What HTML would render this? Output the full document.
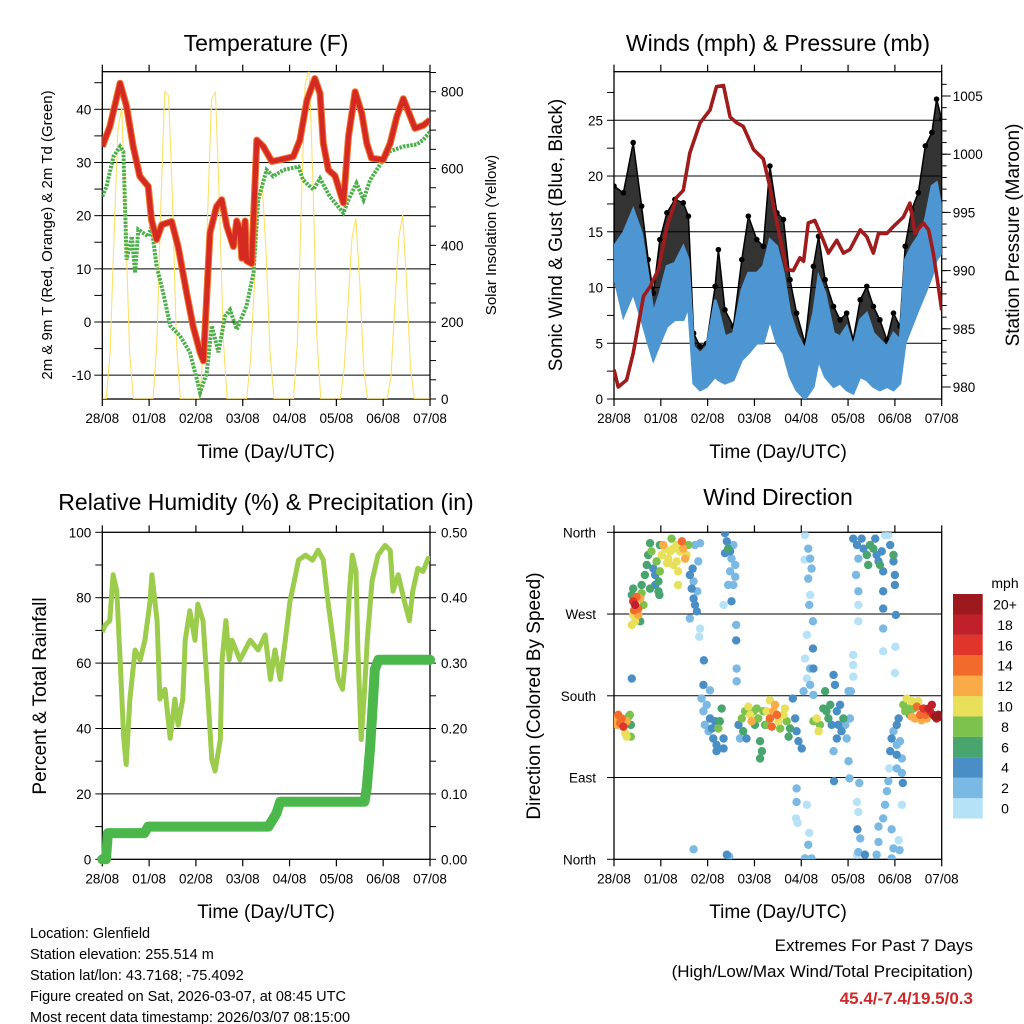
<!DOCTYPE html>
<html><head><meta charset="utf-8"><style>
html,body{margin:0;padding:0;background:#fff;}
svg{display:block;font-family:"Liberation Sans",Arial,sans-serif;}
</style></head><body>
<svg id="root" width="1024" height="1024" viewBox="0 0 1024 1024">
<defs>
<clipPath id="c1"><rect x="102.3" y="71.7" width="327.7" height="327.3"/></clipPath>
<clipPath id="c2"><rect x="614" y="71.7" width="327.7" height="327.3"/></clipPath>
<clipPath id="c3"><rect x="102.3" y="532.3" width="327.7" height="327"/></clipPath>
<clipPath id="c4"><rect x="614" y="532.3" width="327.7" height="327"/></clipPath>
</defs>
<g id="g1"></g>
<g id="g2"></g>
<g id="g3"></g>
<g id="g4"></g>

<text x="266" y="51" font-size="23" text-anchor="middle">Temperature (F)</text>
<text x="778" y="51" font-size="23" text-anchor="middle">Winds (mph) &amp; Pressure (mb)</text>
<text x="266" y="510" font-size="23" text-anchor="middle">Relative Humidity (%) &amp; Precipitation (in)</text>
<text x="778" y="505" font-size="23" text-anchor="middle">Wind Direction</text>

<text x="266" y="458" font-size="19" text-anchor="middle">Time (Day/UTC)</text>
<text x="778" y="458" font-size="19" text-anchor="middle">Time (Day/UTC)</text>
<text x="266" y="918" font-size="19" text-anchor="middle">Time (Day/UTC)</text>
<text x="778" y="918" font-size="19" text-anchor="middle">Time (Day/UTC)</text>

<text transform="translate(52,235) rotate(-90)" font-size="15" text-anchor="middle">2m &amp; 9m T (Red, Orange) &amp; 2m Td (Green)</text>
<text transform="translate(496,235) rotate(-90)" font-size="15" text-anchor="middle">Solar Insolation (Yellow)</text>
<text transform="translate(562,235) rotate(-90)" font-size="19" text-anchor="middle">Sonic Wind &amp; Gust (Blue, Black)</text>
<text transform="translate(1019,235) rotate(-90)" font-size="19" text-anchor="middle">Station Pressure (Maroon)</text>
<text transform="translate(46,696) rotate(-90)" font-size="19" text-anchor="middle">Percent &amp; Total Rainfall</text>
<text transform="translate(540,696) rotate(-90)" font-size="19" text-anchor="middle">Direction (Colored By Speed)</text>

<g font-size="14.5">
<text x="30" y="938">Location: Glenfield</text>
<text x="30" y="959">Station elevation: 255.514 m</text>
<text x="30" y="980">Station lat/lon: 43.7168; -75.4092</text>
<text x="30" y="1001">Figure created on Sat, 2026-03-07, at 08:45 UTC</text>
<text x="30" y="1022">Most recent data timestamp: 2026/03/07 08:15:00</text>
</g>
<text x="973" y="951" font-size="17" text-anchor="end">Extremes For Past 7 Days</text>
<text x="973" y="977" font-size="17" text-anchor="end">(High/Low/Max Wind/Total Precipitation)</text>
<text x="973" y="1004" font-size="17" font-weight="bold" fill="#cc2a2a" text-anchor="end">45.4/-7.4/19.5/0.3</text>
<g id="cbar"></g>
<text x="1005" y="588" font-size="14" text-anchor="middle">mph</text>
</svg>
<script>
// ---------- DATA ----------
const dayLabels = ["28/08","01/08","02/08","03/08","04/08","05/08","06/08","07/08"];

const tempDays = [0,0.16,0.38,0.52,0.66,0.80,0.98,1.05,1.16,1.27,1.48,1.62,1.80,1.94,2.09,2.16,2.30,2.44,2.55,2.66,2.80,2.87,2.94,2.98,3.05,3.08,3.19,3.30,3.44,3.62,3.80,4.08,4.22,4.37,4.54,4.65,4.72,4.83,4.97,5.15,5.26,5.40,5.54,5.65,5.75,6.00,6.15,6.29,6.43,6.68,6.86,7.00];
const tempVals = [33.0,36.7,44.9,40.5,33.0,27.4,25.5,19.2,15.5,18.3,18.9,14.2,5.5,-0.8,-5.7,-7.3,16.8,21.7,23.0,18.0,14.2,19.0,17.4,12.0,19.0,11.5,11.0,34.2,33.0,30.2,30.5,31.1,34.2,41.7,45.8,43.0,33.6,28.6,27.5,22.4,34.9,43.3,39.3,33.6,30.8,30.5,33.6,38.6,42.0,36.4,37.0,38.0];

const dewDays = [0,0.09,0.24,0.38,0.45,0.52,0.63,0.70,0.77,0.98,1.05,1.16,1.30,1.45,1.66,1.87,2.02,2.09,2.23,2.34,2.48,2.62,2.73,2.87,3.08,3.23,3.33,3.51,3.65,3.87,4.19,4.29,4.51,4.65,4.86,5.15,5.26,5.43,5.58,5.72,5.86,6.00,6.15,6.43,6.72,6.86,7.00];
const dewVals = [23.6,25.5,31.1,33.0,32.0,11.7,16.1,9.2,17.4,16.1,18.0,10.5,5.5,-0.7,-2.6,-5.7,-10.8,-13.3,-9.6,-0.7,-5.7,1.1,2.3,-1.4,3.0,9.2,23.0,28.6,27.4,28.6,29.2,26.7,24.9,27.0,23.6,20.5,23.0,26.1,23.0,26.7,28.6,30.5,32.1,33.0,33.4,34.3,35.8];

// solar insolation, 2-hourly samples (W/m2)
const solarVals = [
0,0,120,420,700,760,450,120,0,0,0,0,
0,0,150,500,800,790,520,150,0,0,0,0,
0,0,150,480,780,800,520,160,0,0,0,0,
0,0,100,300,520,560,380,120,0,0,0,0,
0,0,150,500,820,860,560,160,0,0,0,0,
0,0,80,250,420,470,300,80,0,0,0,0,
0,0,60,250,420,480,300,80,0,0,0,0,0];

const presDays = [0,0.09,0.27,0.41,0.63,0.77,0.95,1.13,1.34,1.48,1.62,1.84,2.05,2.19,2.34,2.48,2.62,2.76,2.98,3.19,3.33,3.48,3.69,3.83,3.97,4.05,4.15,4.29,4.44,4.58,4.76,4.90,5.04,5.26,5.40,5.54,5.65,5.83,5.97,6.18,6.32,6.43,6.61,6.72,6.82,6.93,7.00];
const presVals = [981.5,980.0,980.6,982.9,987.8,988.6,990.1,993.8,996.3,996.9,1000.1,1002.7,1003.8,1005.8,1005.9,1003.2,1002.7,1002.4,1000.4,999.6,997.2,994.1,990.1,990.0,991.1,990.8,994.1,994.3,992.9,991.5,992.6,991.5,991.8,993.5,992.9,991.5,993.2,993.2,993.8,994.6,995.8,993.2,994.1,993.5,991.5,988.6,986.6];

const windDays = [0,0.20,0.41,0.59,0.73,0.84,0.98,1.13,1.30,1.48,1.59,1.70,1.84,1.98,2.16,2.23,2.37,2.55,2.73,2.87,3.05,3.19,3.33,3.48,3.62,3.76,3.90,4.08,4.26,4.37,4.51,4.69,4.83,4.97,5.11,5.26,5.40,5.54,5.68,5.83,5.97,6.11,6.22,6.36,6.50,6.65,6.79,6.89,7.00];
const windHigh = [13.7,14.9,17.0,14.9,11.0,7.7,9.5,11.9,12.2,13.7,12.5,4.7,4.1,4.7,8.9,8.0,5.6,5.9,9.8,11.3,11.3,11.9,14.3,13.7,11.3,7.7,5.9,4.4,7.7,11.0,9.5,5.9,5.6,6.5,4.7,7.1,7.7,5.9,5.3,4.7,5.9,5.3,12.5,13.7,14.6,16.1,19.1,19.4,17.0];
const windLow = [11.0,7.4,9.5,7.1,5.0,3.5,5.0,6.5,7.1,7.1,8.3,1.4,0.8,1.1,2.0,1.7,1.4,1.7,3.5,4.1,5.0,5.0,7.1,5.0,4.1,2.0,0.8,0,1.1,3.5,2.0,1.1,1.4,0.8,0.5,2.0,1.7,1.1,0.8,1.1,0.8,1.4,5.0,6.5,8.0,9.5,11.0,12.5,13.1];
const gustHigh = [19.1,18.5,23.0,17.3,12.5,9.5,14.3,16.7,17.9,17.6,16.4,5.9,4.7,5.0,10.1,13.4,8.0,6.5,12.5,16.4,14.3,13.7,20.9,16.7,16.1,10.7,7.7,5.0,11.9,14.6,10.7,8.3,7.1,7.7,5.3,8.9,10.1,8.3,7.1,5.3,7.7,6.5,13.7,17.0,18.5,22.7,23.9,26.9,25.1];

const rhDays = [0,0.06,0.16,0.23,0.31,0.38,0.46,0.51,0.59,0.70,0.81,0.91,1.02,1.06,1.17,1.23,1.34,1.45,1.55,1.62,1.72,1.77,1.87,1.98,2.04,2.15,2.26,2.34,2.41,2.52,2.56,2.64,2.71,2.77,2.94,3.16,3.33,3.48,3.59,3.69,3.80,3.91,4.01,4.10,4.19,4.34,4.49,4.61,4.72,4.82,4.93,5.04,5.13,5.21,5.28,5.34,5.42,5.46,5.53,5.59,5.66,5.76,5.89,6.04,6.15,6.21,6.32,6.45,6.56,6.63,6.74,6.85,6.96,7.00];
const rhVals = [69.5,71.6,73,87,82,61,36.6,29,49,64,61,67,79,87,73,49,52,37,49,41,49,67,76,67,78,73,49,30.5,27,36.6,61,73,61,67,61,67,64,68.6,55,64,55,67,79,85,91.5,93,91.5,94.5,91.5,79,67,55,52,64,82,93,88,64,36.6,49,67,85,93,96,94.5,82,87,79,73,82,89,88,92,92];

const precipDays = [0,0.08,0.12,0.90,0.98,3.55,3.72,3.80,5.60,5.65,5.72,5.78,5.82,5.90,7.00];
const precipVals = [0,0,0.04,0.04,0.05,0.05,0.07,0.088,0.088,0.11,0.17,0.24,0.29,0.305,0.305];

const dirDays = [
0.02,0.09,0.13,0.20,0.27,0.31,0.34,0.24,0.27,0.36,0.36,0.06,0.16,
0.38,0.41,0.45,0.48,0.52,0.56,0.59,0.63,0.41,0.45,0.38,0.56,0.43,0.52,0.41,0.59,
0.66,0.70,0.73,0.77,0.80,0.84,0.88,0.91,0.95,0.97,0.98,1.02,1.05,0.77,0.95,0.98,0.88,
1.09,1.16,1.23,1.27,1.34,1.37,1.41,1.45,1.48,1.52,1.55,1.59,1.37,1.27,1.20,1.34,1.13,
1.62,1.66,1.70,1.73,1.77,1.70,1.80,1.62,1.84,1.82,1.68,1.78,1.73,1.84,
2.37,2.41,2.44,2.48,2.51,2.55,2.59,2.48,2.55,2.51,2.34,2.59,2.44,2.37,2.61,2.61,2.62,2.62,1.92,
1.87,1.91,1.94,1.98,2.05,2.09,2.12,2.16,2.19,2.23,2.26,2.30,2.05,2.34,1.91,2.19,2.34,2.02,
2.66,2.69,2.73,2.76,2.80,2.83,2.87,2.91,2.94,2.98,3.01,3.05,3.08,3.12,3.16,3.12,3.19,3.23,
3.26,3.33,3.37,3.40,3.44,3.48,3.51,3.55,3.62,3.65,3.69,3.76,3.73,3.82,3.87,3.90,3.94,4.01,3.33,3.26,
4.08,4.15,4.19,4.22,4.15,4.19,4.17,4.25,4.12,4.25,4.08,4.19,4.26,4.12,4.19,4.26,4.05,4.07,
4.26,4.33,4.37,4.40,4.47,4.51,4.54,4.58,4.62,4.65,4.69,4.72,4.76,4.79,4.83,4.86,4.90,4.94,4.97,5.01,5.04,4.76,4.69,5.01,4.70,5.03,5.24,
3.90,3.90,3.89,3.92,4.12,4.17,4.15,4.08,4.22,
5.11,5.19,5.22,5.17,5.22,5.22,5.29,5.33,5.40,5.43,5.47,5.54,5.58,5.61,5.65,5.68,5.72,5.75,5.79,5.86,5.90,5.97,5.97,6.00,6.00,5.75,5.75,6.02,5.22,5.75,5.75,6.01,5.11,5.11,5.11,5.06,6.00,
5.19,5.22,5.20,5.26,5.22,5.36,5.19,5.61,5.65,5.65,5.75,5.79,5.83,5.86,5.93,5.97,5.93,6.08,6.10,6.15,6.17,6.15,5.88,5.90,5.93,5.97,6.04,6.04,6.11,6.15,6.04,6.08,6.04,2.41,2.46,1.70,0.38,
6.18,6.22,6.25,6.29,6.32,6.36,6.40,6.43,6.47,6.50,6.54,6.57,6.61,6.65,6.68,6.72,6.75,6.79,6.82,6.86,6.89,6.93,6.97,6.36];
const dirDeg = [
156,159,150,146,152,157,159,139,135,148,135,148,155,
291,284,280,289,276,287,293,280,269,262,258,262,274,269,298,302,
313,324,335,348,339,320,313,328,306,291,317,335,346,298,295,346,302,
342,331,353,342,328,317,339,350,342,331,335,346,302,324,339,346,326,
313,298,287,280,273,306,328,265,254,245,320,295,346,348,
359,350,342,339,331,346,324,317,302,284,280,311,302,337,258,241,210,196,219,
177,163,148,170,155,144,133,152,126,144,152,166,186,133,192,119,122,141,
148,133,155,141,163,133,168,159,152,163,148,166,155,130,119,111,163,148,
163,155,146,163,170,159,152,144,159,166,152,144,135,177,155,141,130,122,175,148,
357,342,331,320,309,291,280,262,247,232,221,210,210,199,192,181,185,330,
152,155,141,148,166,185,163,155,170,148,203,192,163,148,170,141,155,148,133,185,155,133,119,108,86,89,84,
78,63,45,40,60,29,16,1,1,
353,346,331,313,295,280,353,342,335,324,346,342,353,335,328,324,339,317,357,357,346,335,328,313,302,295,276,269,262,254,229,234,225,214,201,185,205,
63,52,33,23,8,5,5,5,19,36,45,60,75,86,33,12,1,21,10,60,84,95,100,119,133,141,148,126,130,111,115,155,100,5,3,11,199,
170,163,177,166,159,174,166,155,168,174,159,153,166,159,155,166,163,170,159,157,155,159,157,157];
const dirSpd = [
13,15,15,17,13,9,9,11,11,7,9,13,15,
7,17,19,15,15,13,9,9,11,11,11,7,15,13,7,7,
7,7,7,7,9,5,5,9,7,7,9,11,13,7,7,7,5,
11,11,9,11,11,11,11,15,13,13,11,9,11,11,11,11,11,
5,5,5,5,5,3,3,3,1,1,5,3,3,3,
5,5,7,5,3,3,3,3,3,5,1,3,3,5,3,5,3,3,5,
3,3,3,3,5,5,5,5,5,9,7,7,3,5,5,5,5,3,
5,3,9,7,9,5,11,11,13,9,7,9,9,7,7,7,9,7,
11,15,15,13,13,15,11,9,11,11,9,7,7,5,5,5,5,5,11,9,
1,3,3,3,3,1,3,3,1,5,1,3,5,1,3,3,3,1,
9,11,11,9,7,7,7,7,7,5,5,5,5,5,5,5,7,3,3,3,3,5,3,3,5,3,3,
3,3,1,1,1,1,3,3,3,
5,5,3,3,3,1,5,5,7,7,7,7,5,5,5,7,5,5,1,1,5,7,5,5,5,5,5,5,1,3,1,1,1,1,1,3,1,
1,1,5,3,3,5,1,3,3,3,3,3,3,3,3,3,3,1,3,1,5,3,1,5,5,3,5,3,3,3,5,5,3,5,3,3,5,
9,9,11,9,7,11,9,13,15,11,15,13,17,15,13,19,17,19,19,21,19,21,21,13];

const speedColors = ["#b6e2f7","#7ab9e3","#4a8ec6","#48a56e","#7cc24c","#e8e05a","#f8ab47","#f26a2c","#e0352b","#c0202a","#9c1a1d"];
const speedLabels = ["0","2","4","6","8","10","12","14","16","18","20+"];

// ---------- SCALES ----------
const NS="http://www.w3.org/2000/svg";
function mk(parent, tag, attrs){const e=document.createElementNS(NS,tag);for(const k in attrs)e.setAttribute(k,attrs[k]);parent.appendChild(e);return e;}
const lin=(d0,d1,r0,r1)=>v=>r0+(v-d0)*(r1-r0)/(d1-d0);
const xL=lin(0,7,102.3,430), xR=lin(0,7,614,941.7);
const yTemp=lin(0,40,322,109.3), ySolar=lin(0,800,399,91.7);
const yWind=lin(0,25,399,120.3), yPres=lin(1005,980,96,387);
const yRh=lin(0,100,859.3,532.3), yPrec=lin(0,0.5,859.3,532.3);
const yDir=lin(0,360,859.3,532.3);
function pathOf(xs,ys,fx,fy){return xs.map((d,i)=>(i?"L":"M")+fx(d).toFixed(1)+","+fy(ys[i]).toFixed(1)).join("");}

const g1=document.getElementById('g1'),g2=document.getElementById('g2'),g3=document.getElementById('g3'),g4=document.getElementById('g4');

function frame(g,x0,x1,y0,y1,grid,fy){
  for(const v of grid){const l=mk(g,'line',{x1:x0,x2:x1,y1:fy(v),y2:fy(v),stroke:'#000','stroke-width':1});
    
    }
  const r=mk(g,'rect',{x:x0,y:y0,width:x1-x0,height:y1-y0,fill:'none',stroke:'#000','stroke-width':1.3});
  
  
}
function xAxis(g,fx,y0,y1){
  for(let i=0;i<=7;i++){const x=fx(i);
    const t1=mk(g,'line',{x1:x,x2:x,y1:y1,y2:y1+7,stroke:'#000','stroke-width':1.2});
    
    
    const t2=mk(g,'line',{x1:x,x2:x,y1:y0,y2:y0-7,stroke:'#000','stroke-width':1.2});
    
    
    const tx=mk(g,'text',{x:x,y:y1+24,'font-size':13.5,'text-anchor':'middle'});tx.textContent=dayLabels[i];
    
    }
}
function yTicks(g,fy,vals,xEdge,dir,len,labels,fmt){
  for(const v of vals){const y=fy(v);
    const l=mk(g,'line',{x1:xEdge,x2:xEdge+dir*len,y1:y,y2:y,stroke:'#000','stroke-width':1});
    
    }
  if(labels)for(const v of labels){const y=fy(v);
    const t=mk(g,'text',{x:xEdge+dir*11,y:y+5,'font-size':13.5,'text-anchor':dir<0?'end':'start'});t.textContent=fmt?fmt(v):v;
    
    }
}
const range=(a,b,s)=>{const r=[];for(let v=a;v<=b+1e-9;v+=s)r.push(+v.toFixed(4));return r;};

// ----- Panel 1 -----
frame(g1,102.3,430,71.7,399,[-10,0,10,20,30,40],yTemp);
xAxis(g1,xL,71.7,399);
yTicks(g1,yTemp,range(-10,45,5),102.3,-1,8,[-10,0,10,20,30,40]);
yTicks(g1,ySolar,range(0,850,50),430,1,6,[0,200,400,600,800]);
const p1=mk(g1,'g',{'clip-path':'url(#c1)'});


const solarDays=solarVals.map((v,i)=>i/12);
const sol=mk(p1,'path',{d:pathOf(solarDays,solarVals,xL,ySolar),fill:'none',stroke:'#ffe066','stroke-width':1.1});


const dew=mk(p1,'path',{d:pathOf(dewDays,dewVals,xL,yTemp),fill:'none',stroke:'#4caf4a','stroke-width':4,'stroke-dasharray':'2.5 1.2'});


const t9=mk(p1,'path',{d:pathOf(tempDays,tempVals,xL,yTemp),fill:'none',stroke:'#f07830','stroke-width':7,'stroke-linejoin':'round'});


const t2=mk(p1,'path',{d:pathOf(tempDays,tempVals,xL,yTemp),fill:'none',stroke:'#d42a22','stroke-width':5,'stroke-linejoin':'round'});



// ----- Panel 2 -----
frame(g2,614,941.7,71.7,399,[5,10,15,20,25],yWind);
xAxis(g2,xR,71.7,399);
yTicks(g2,yWind,range(0,27.5,2.5),614,-1,7,[0,5,10,15,20,25]);
yTicks(g2,yPres,range(980,1006,1),941.7,1,5,null);
yTicks(g2,yPres,range(980,1005,5),941.7,1,9,[980,985,990,995,1000,1005]);
const p2=mk(g2,'g',{'clip-path':'url(#c2)'});


const bandPath=(top,bot)=>{let d=windDays.map((t,i)=>(i?"L":"M")+xR(t).toFixed(1)+","+yWind(top[i]).toFixed(1)).join("");
  for(let i=windDays.length-1;i>=0;i--)d+="L"+xR(windDays[i]).toFixed(1)+","+yWind(bot[i]).toFixed(1);return d+"Z";};
const gb=mk(p2,'path',{d:bandPath(gustHigh,windLow),fill:'#000','fill-opacity':0.8,stroke:'#000','stroke-width':1.5});


windDays.forEach((t,i)=>{const c=mk(p2,'circle',{cx:xR(t),cy:yWind(gustHigh[i]),r:2.8,fill:'#000'});
  
  });
const wb=mk(p2,'path',{d:bandPath(windHigh,windLow),fill:'#4d96d2',stroke:'#4d96d2','stroke-width':2.5});


const pl=mk(p2,'path',{d:pathOf(presDays,presVals,xR,yPres),fill:'none',stroke:'#a01c1c','stroke-width':3.6,'stroke-linejoin':'round'});



// ----- Panel 3 -----
frame(g3,102.3,430,532.3,859.3,[20,40,60,80],yRh);
xAxis(g3,xL,532.3,859.3);
yTicks(g3,yRh,range(0,100,10),102.3,-1,7,[0,20,40,60,80,100]);
yTicks(g3,yPrec,range(0,0.5,0.05),430,1,6,[0,0.1,0.2,0.3,0.4,0.5],v=>v.toFixed(2));
const p3=mk(g3,'g',{'clip-path':'url(#c3)'});


const rl=mk(p3,'path',{d:pathOf(rhDays,rhVals,xL,yRh),fill:'none',stroke:'#9ccc4c','stroke-width':5,'stroke-linejoin':'round'});


const pr=mk(g3,'path',{d:pathOf(precipDays,precipVals,xL,yPrec),fill:'none',stroke:'#4cb84c','stroke-width':10,'stroke-linejoin':'round','stroke-linecap':'round'});



// ----- Panel 4 -----
frame(g4,614,941.7,532.3,859.3,[90,180,270],yDir);
xAxis(g4,xR,532.3,859.3);
yTicks(g4,yDir,[0,90,180,270,360],614,-1,7,null);
const dirNames=["North","East","South","West","North"];
[0,90,180,270,360].forEach((v,i)=>{const t=mk(g4,'text',{x:596,y:yDir(v)+5,'font-size':13.5,'text-anchor':'end'});t.textContent=dirNames[i];
  
  });
const p4=mk(g4,'g',{'clip-path':'url(#c4)'});


const order=dirSpd.map((s,i)=>i).sort((a,b)=>dirSpd[a]-dirSpd[b]);
order.forEach(i=>{const ci=Math.min(10,Math.floor(dirSpd[i]/2));
  const c=mk(p4,'circle',{cx:xR(dirDays[i]),cy:yDir(dirDeg[i]),r:4.2,fill:speedColors[ci]});
  
  });

// colorbar
const cb=document.getElementById('cbar');
for(let k=0;k<11;k++){const y=594+(10-k)*20.4;
  const r=mk(cb,'rect',{x:953,y:y,width:29.7,height:20.5,fill:speedColors[k]});
  
  
  const t=mk(cb,'text',{x:1005,y:y+15.5,'font-size':14,'text-anchor':'middle'});t.textContent=speedLabels[k];
  
  }
</script>
</body></html>
